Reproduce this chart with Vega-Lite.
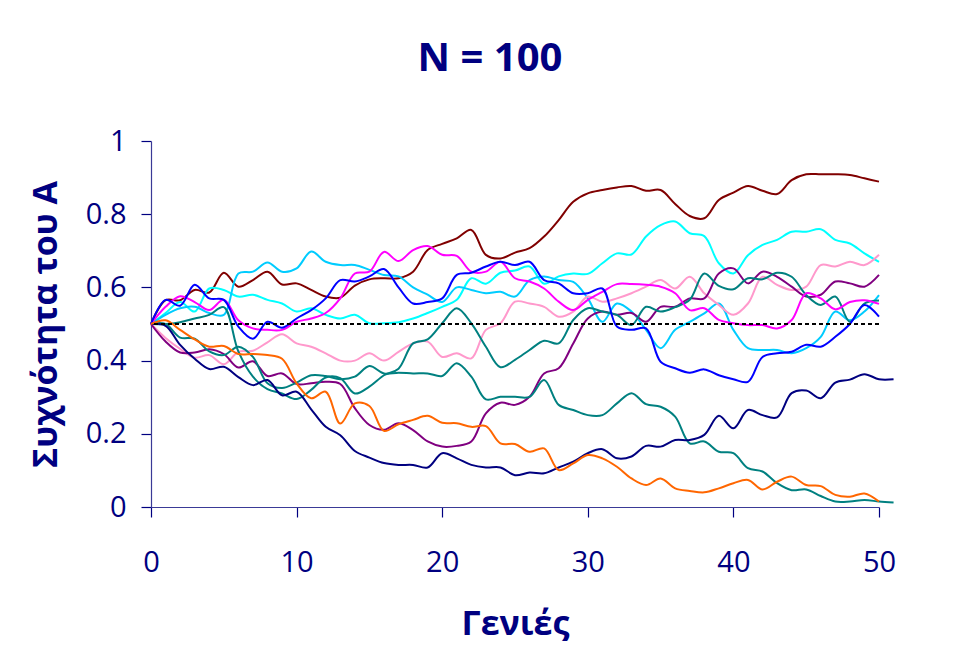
{
  "$schema": "https://vega.github.io/schema/vega-lite/v6.json",
  "width": 728,
  "height": 366,
  "autosize": {"type": "none"},
  "padding": {"left": 151, "top": 141, "right": 76, "bottom": 153},
  "background": "white",
  "title": {
    "text": "N = 100",
    "font": "Open Sans",
    "fontSize": 40,
    "fontWeight": "bold",
    "color": "#000080",
    "anchor": "middle",
    "frame": "group",
    "dx": -25,
    "baseline": "alphabetic",
    "offset": 16
  },
  "config": {
    "view": {"stroke": null},
    "axis": {
      "labelFont": "Open Sans",
      "labelFontSize": 29,
      "labelColor": "#000080",
      "titleFont": "Open Sans",
      "titleFontSize": 34,
      "titleFontWeight": "bold",
      "titleColor": "#000080",
      "domainColor": "#3a3a96",
      "domainWidth": 1.2,
      "tickColor": "#000080",
      "tickSize": 10,
      "tickWidth": 1.2,
      "grid": false
    }
  },
  "data": {
    "values": [
      {"g":0,"maroon":0.5,"cyan":0.5,"skyblue":0.5,"pink":0.5,"purple":0.5,"tealA":0.5,"tealB":0.5,"magenta":0.5,"blue":0.5,"navy":0.5,"orange":0.5},
      {"g":1,"maroon":0.565,"cyan":0.53,"skyblue":0.525,"pink":0.462,"purple":0.452,"tealA":0.5,"tealB":0.5,"magenta":0.547,"blue":0.566,"navy":0.495,"orange":0.51},
      {"g":2,"maroon":0.565,"cyan":0.56,"skyblue":0.543,"pink":0.432,"purple":0.422,"tealA":0.505,"tealB":0.463,"magenta":0.576,"blue":0.55,"navy":0.443,"orange":0.484},
      {"g":3,"maroon":0.593,"cyan":0.534,"skyblue":0.547,"pink":0.408,"purple":0.422,"tealA":0.515,"tealB":0.46,"magenta":0.56,"blue":0.607,"navy":0.405,"orange":0.458},
      {"g":4,"maroon":0.586,"cyan":0.597,"skyblue":0.53,"pink":0.415,"purple":0.431,"tealA":0.525,"tealB":0.425,"magenta":0.538,"blue":0.57,"navy":0.377,"orange":0.438},
      {"g":5,"maroon":0.64,"cyan":0.593,"skyblue":0.525,"pink":0.39,"purple":0.418,"tealA":0.546,"tealB":0.415,"magenta":0.566,"blue":0.566,"navy":0.383,"orange":0.44},
      {"g":6,"maroon":0.602,"cyan":0.575,"skyblue":0.638,"pink":0.424,"purple":0.381,"tealA":0.425,"tealB":0.438,"magenta":0.51,"blue":0.493,"navy":0.355,"orange":0.418},
      {"g":7,"maroon":0.62,"cyan":0.58,"skyblue":0.643,"pink":0.427,"purple":0.398,"tealA":0.356,"tealB":0.41,"magenta":0.488,"blue":0.46,"navy":0.333,"orange":0.418},
      {"g":8,"maroon":0.643,"cyan":0.566,"skyblue":0.668,"pink":0.45,"purple":0.358,"tealA":0.322,"tealB":0.338,"magenta":0.484,"blue":0.506,"navy":0.347,"orange":0.415},
      {"g":9,"maroon":0.608,"cyan":0.556,"skyblue":0.643,"pink":0.472,"purple":0.365,"tealA":0.31,"tealB":0.325,"magenta":0.484,"blue":0.49,"navy":0.305,"orange":0.405},
      {"g":10,"maroon":0.611,"cyan":0.534,"skyblue":0.652,"pink":0.447,"purple":0.336,"tealA":0.295,"tealB":0.34,"magenta":0.506,"blue":0.515,"navy":0.315,"orange":0.338},
      {"g":11,"maroon":0.593,"cyan":0.543,"skyblue":0.698,"pink":0.438,"purple":0.338,"tealA":0.32,"tealB":0.36,"magenta":0.515,"blue":0.538,"navy":0.267,"orange":0.297},
      {"g":12,"maroon":0.575,"cyan":0.525,"skyblue":0.67,"pink":0.42,"purple":0.342,"tealA":0.354,"tealB":0.358,"magenta":0.53,"blue":0.57,"navy":0.219,"orange":0.315},
      {"g":13,"maroon":0.572,"cyan":0.515,"skyblue":0.661,"pink":0.4,"purple":0.336,"tealA":0.352,"tealB":0.349,"magenta":0.57,"blue":0.62,"navy":0.196,"orange":0.228},
      {"g":14,"maroon":0.605,"cyan":0.525,"skyblue":0.661,"pink":0.4,"purple":0.27,"tealA":0.31,"tealB":0.356,"magenta":0.638,"blue":0.616,"navy":0.153,"orange":0.283},
      {"g":15,"maroon":0.622,"cyan":0.502,"skyblue":0.648,"pink":0.42,"purple":0.224,"tealA":0.329,"tealB":0.385,"magenta":0.643,"blue":0.63,"navy":0.135,"orange":0.276},
      {"g":16,"maroon":0.625,"cyan":0.502,"skyblue":0.634,"pink":0.4,"purple":0.211,"tealA":0.36,"tealB":0.365,"magenta":0.697,"blue":0.65,"navy":0.12,"orange":0.208},
      {"g":17,"maroon":0.625,"cyan":0.505,"skyblue":0.63,"pink":0.424,"purple":0.229,"tealA":0.378,"tealB":0.367,"magenta":0.672,"blue":0.6,"navy":0.115,"orange":0.226},
      {"g":18,"maroon":0.643,"cyan":0.515,"skyblue":0.6,"pink":0.447,"purple":0.21,"tealA":0.447,"tealB":0.365,"magenta":0.702,"blue":0.556,"navy":0.115,"orange":0.238},
      {"g":19,"maroon":0.702,"cyan":0.53,"skyblue":0.58,"pink":0.452,"purple":0.179,"tealA":0.458,"tealB":0.365,"magenta":0.713,"blue":0.56,"navy":0.108,"orange":0.249},
      {"g":20,"maroon":0.719,"cyan":0.547,"skyblue":0.56,"pink":0.41,"purple":0.165,"tealA":0.502,"tealB":0.358,"magenta":0.689,"blue":0.57,"navy":0.147,"orange":0.23},
      {"g":21,"maroon":0.734,"cyan":0.566,"skyblue":0.6,"pink":0.42,"purple":0.167,"tealA":0.543,"tealB":0.393,"magenta":0.686,"blue":0.634,"navy":0.133,"orange":0.229},
      {"g":22,"maroon":0.757,"cyan":0.625,"skyblue":0.593,"pink":0.406,"purple":0.179,"tealA":0.502,"tealB":0.356,"magenta":0.643,"blue":0.64,"navy":0.115,"orange":0.219},
      {"g":23,"maroon":0.689,"cyan":0.61,"skyblue":0.584,"pink":0.484,"purple":0.256,"tealA":0.438,"tealB":0.294,"magenta":0.643,"blue":0.657,"navy":0.108,"orange":0.221},
      {"g":24,"maroon":0.679,"cyan":0.64,"skyblue":0.588,"pink":0.502,"purple":0.285,"tealA":0.382,"tealB":0.301,"magenta":0.67,"blue":0.67,"navy":0.108,"orange":0.174},
      {"g":25,"maroon":0.695,"cyan":0.646,"skyblue":0.575,"pink":0.561,"purple":0.279,"tealA":0.402,"tealB":0.301,"magenta":0.625,"blue":0.661,"navy":0.087,"orange":0.172},
      {"g":26,"maroon":0.707,"cyan":0.657,"skyblue":0.62,"pink":0.556,"purple":0.301,"tealA":0.429,"tealB":0.301,"magenta":0.616,"blue":0.67,"navy":0.094,"orange":0.151},
      {"g":27,"maroon":0.739,"cyan":0.61,"skyblue":0.63,"pink":0.547,"purple":0.365,"tealA":0.454,"tealB":0.347,"magenta":0.597,"blue":0.62,"navy":0.092,"orange":0.16},
      {"g":28,"maroon":0.784,"cyan":0.63,"skyblue":0.62,"pink":0.52,"purple":0.379,"tealA":0.447,"tealB":0.279,"magenta":0.561,"blue":0.611,"navy":0.108,"orange":0.101},
      {"g":29,"maroon":0.834,"cyan":0.638,"skyblue":0.615,"pink":0.534,"purple":0.447,"tealA":0.511,"tealB":0.265,"magenta":0.538,"blue":0.584,"navy":0.124,"orange":0.119},
      {"g":30,"maroon":0.857,"cyan":0.637,"skyblue":0.57,"pink":0.575,"purple":0.515,"tealA":0.543,"tealB":0.251,"magenta":0.566,"blue":0.584,"navy":0.147,"orange":0.142},
      {"g":31,"maroon":0.866,"cyan":0.666,"skyblue":0.506,"pink":0.561,"purple":0.534,"tealA":0.534,"tealB":0.251,"magenta":0.588,"blue":0.597,"navy":0.158,"orange":0.133},
      {"g":32,"maroon":0.873,"cyan":0.693,"skyblue":0.556,"pink":0.57,"purple":0.525,"tealA":0.525,"tealB":0.283,"magenta":0.609,"blue":0.493,"navy":0.133,"orange":0.11},
      {"g":33,"maroon":0.877,"cyan":0.69,"skyblue":0.534,"pink":0.584,"purple":0.53,"tealA":0.497,"tealB":0.311,"magenta":0.609,"blue":0.484,"navy":0.138,"orange":0.078},
      {"g":34,"maroon":0.864,"cyan":0.739,"skyblue":0.484,"pink":0.602,"purple":0.506,"tealA":0.547,"tealB":0.281,"magenta":0.607,"blue":0.488,"navy":0.167,"orange":0.06},
      {"g":35,"maroon":0.866,"cyan":0.77,"skyblue":0.434,"pink":0.62,"purple":0.547,"tealA":0.534,"tealB":0.274,"magenta":0.602,"blue":0.397,"navy":0.165,"orange":0.078},
      {"g":36,"maroon":0.828,"cyan":0.78,"skyblue":0.484,"pink":0.597,"purple":0.547,"tealA":0.546,"tealB":0.247,"magenta":0.584,"blue":0.379,"navy":0.183,"orange":0.051},
      {"g":37,"maroon":0.795,"cyan":0.748,"skyblue":0.506,"pink":0.629,"purple":0.57,"tealA":0.566,"tealB":0.174,"magenta":0.538,"blue":0.367,"navy":0.183,"orange":0.044},
      {"g":38,"maroon":0.789,"cyan":0.74,"skyblue":0.529,"pink":0.584,"purple":0.57,"tealA":0.638,"tealB":0.179,"magenta":0.543,"blue":0.376,"navy":0.197,"orange":0.04},
      {"g":39,"maroon":0.839,"cyan":0.666,"skyblue":0.556,"pink":0.552,"purple":0.638,"tealA":0.604,"tealB":0.151,"magenta":0.511,"blue":0.36,"navy":0.249,"orange":0.051},
      {"g":40,"maroon":0.859,"cyan":0.638,"skyblue":0.484,"pink":0.525,"purple":0.652,"tealA":0.595,"tealB":0.147,"magenta":0.502,"blue":0.349,"navy":0.215,"orange":0.065},
      {"g":41,"maroon":0.877,"cyan":0.688,"skyblue":0.434,"pink":0.556,"purple":0.611,"tealA":0.625,"tealB":0.106,"magenta":0.497,"blue":0.342,"navy":0.265,"orange":0.074},
      {"g":42,"maroon":0.864,"cyan":0.716,"skyblue":0.429,"pink":0.629,"purple":0.643,"tealA":0.622,"tealB":0.097,"magenta":0.497,"blue":0.41,"navy":0.251,"orange":0.048},
      {"g":43,"maroon":0.855,"cyan":0.73,"skyblue":0.429,"pink":0.607,"purple":0.629,"tealA":0.64,"tealB":0.065,"magenta":0.488,"blue":0.42,"navy":0.245,"orange":0.069},
      {"g":44,"maroon":0.893,"cyan":0.752,"skyblue":0.42,"pink":0.593,"purple":0.602,"tealA":0.629,"tealB":0.046,"magenta":0.511,"blue":0.424,"navy":0.311,"orange":0.083},
      {"g":45,"maroon":0.909,"cyan":0.752,"skyblue":0.434,"pink":0.602,"purple":0.575,"tealA":0.579,"tealB":0.048,"magenta":0.584,"blue":0.443,"navy":0.318,"orange":0.06},
      {"g":46,"maroon":0.909,"cyan":0.759,"skyblue":0.465,"pink":0.661,"purple":0.58,"tealA":0.552,"tealB":0.03,"magenta":0.57,"blue":0.438,"navy":0.297,"orange":0.057},
      {"g":47,"maroon":0.909,"cyan":0.73,"skyblue":0.534,"pink":0.657,"purple":0.616,"tealA":0.575,"tealB":0.015,"magenta":0.54,"blue":0.465,"navy":0.34,"orange":0.033},
      {"g":48,"maroon":0.907,"cyan":0.72,"skyblue":0.51,"pink":0.67,"purple":0.611,"tealA":0.506,"tealB":0.015,"magenta":0.56,"blue":0.5,"navy":0.348,"orange":0.028},
      {"g":49,"maroon":0.898,"cyan":0.693,"skyblue":0.534,"pink":0.661,"purple":0.602,"tealA":0.556,"tealB":0.019,"magenta":0.565,"blue":0.552,"navy":0.363,"orange":0.037},
      {"g":50,"maroon":0.889,"cyan":0.67,"skyblue":0.579,"pink":0.689,"purple":0.634,"tealA":0.564,"tealB":0.015,"magenta":0.555,"blue":0.52,"navy":0.349,"orange":0.015},
      {"g":51,"tealB":0.012,"navy":0.349}
    ]
  },
  "layer": [
    {
      "transform": [
        {"fold": ["maroon","cyan","skyblue","pink","purple","tealA","tealB","magenta","blue","navy","orange"], "as": ["series","freq"]},
        {"filter": "isValid(datum.freq)"}
      ],
      "mark": {"type": "line", "interpolate": "catmull-rom", "strokeWidth": 2, "clip": false},
      "encoding": {
        "x": {
          "field": "g", "type": "quantitative",
          "scale": {"domain": [0, 50], "nice": false, "zero": false},
          "axis": {"values": [0,10,20,30,40,50], "title": "Γενιές", "labelPadding": 31, "titlePadding": 30, "labelFlush": false}
        },
        "y": {
          "field": "freq", "type": "quantitative",
          "scale": {"domain": [0, 1], "nice": false},
          "axis": {"values": [0,0.2,0.4,0.6,0.8,1], "format": ".1~f", "title": "Συχνότητα του Α", "labelPadding": 15, "titlePadding": 22}
        },
        "color": {
          "field": "series", "type": "nominal", "legend": null,
          "scale": {
            "domain": ["maroon","cyan","skyblue","pink","purple","tealA","tealB","magenta","blue","navy","orange"],
            "range": ["#800000","#00FFFF","#00CCFF","#FF99CC","#800080","#008080","#008080","#FF00FF","#0000FF","#000080","#FF6600"]
          }
        }
      }
    },
    {
      "data": {"values": [{"ref": 0.5}]},
      "mark": {"type": "rule", "color": "black", "strokeWidth": 2, "strokeDash": [4, 3]},
      "encoding": {"y": {"field": "ref", "type": "quantitative"}}
    }
  ]
}
